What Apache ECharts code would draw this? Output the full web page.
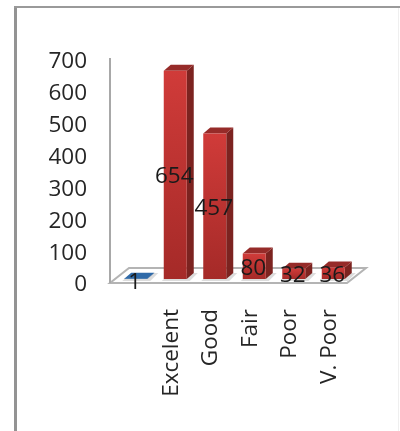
<!DOCTYPE html>
<html><head><meta charset="utf-8">
<script src="https://cdn.jsdelivr.net/npm/echarts@6/dist/echarts.min.js"></script>
<style>html,body{margin:0;padding:0;background:#fff}#c{width:400px;height:431px}</style>
</head><body><div id="c"></div>
<script>
const categories = ['', 'Excelent', 'Good', 'Fair', 'Poor', 'V. Poor'];
const values = [1, 654, 457, 80, 32, 36];
const yTicks = [0, 100, 200, 300, 400, 500, 600, 700];

const font = 'Open Sans';
const chart = echarts.init(document.getElementById('c'), null, {renderer: 'canvas'});

function faces(x0, x1, yBase, yTop, dx, dy, pal) {
  const shape = pts => ({points: pts});
  return [
    {type: 'polygon', shape: shape([[x0 - 2, yBase + 2], [x1 + 3, yBase + 2], [x1 + dx + 4, yBase + dy], [x0 + dx, yBase + dy]]), style: {fill: '#dcdcdc'}},
    {type: 'polygon', shape: shape([[x1, yTop], [x1 + dx, yTop + dy], [x1 + dx, yBase + dy], [x1, yBase]]), style: {fill: pal.side}},
    {type: 'polygon', shape: shape([[x0, yTop], [x1, yTop], [x1 + dx, yTop + dy], [x0 + dx, yTop + dy]]), style: {fill: pal.top}},
    {type: 'rect', shape: {x: x0, y: yTop, width: x1 - x0, height: yBase - yTop},
      style: {fill: new echarts.graphic.LinearGradient(0, 0, 0, 1, [{offset: 0, color: pal.f0}, {offset: 1, color: pal.f1}])}}
  ];
}
const red = {side: '#7c2320', top: '#962b29', f0: '#d03b39', f1: '#a52a28'};
const blue = {side: '#24497a', top: '#2f6aa8', f0: '#2f6aa8', f1: '#2a5c94'};
const labelRich = {a: {padding: [4, 0, 0, 0], color: '#262626', fontFamily: font, fontSize: 22.5}};

const option = {
  animation: false,
  backgroundColor: '#fff',
  graphic: [
    {type: 'rect', silent: true, z: 0, shape: {x: 14, y: 6, width: 3, height: 425}, style: {fill: '#939393'}},
    {type: 'rect', silent: true, z: 0, shape: {x: 14, y: 6, width: 386, height: 2}, style: {fill: '#9a9a9a'}},
    {type: 'rect', silent: true, z: 0, shape: {x: 398, y: 8, width: 1, height: 423}, style: {fill: '#efefef'}}
  ],
  grid: {left: 110, right: 53, top: 60, bottom: 148},
  xAxis: {
    type: 'category', data: categories, boundaryGap: true,
    axisLine: {show: false}, axisTick: {show: false},
    axisLabel: {rotate: 90, margin: 26, interval: 0, color: '#262626', fontFamily: font, fontSize: 22.5,
      rich: labelRich, formatter: v => v ? '{a|' + v + '}' : ''}
  },
  yAxis: {
    type: 'value', min: 0, max: 700, interval: 100,
    axisLine: {show: false}, axisTick: {show: false}, splitLine: {show: false},
    axisLabel: {margin: 23, color: '#262626', fontFamily: font, fontSize: 22.5,
      rich: labelRich, formatter: v => yTicks.includes(v) ? '{a|' + v + '}' : ''}
  },
  series: [
    {
      type: 'custom', coordinateSystem: 'cartesian2d', z: 1, silent: true,
      data: [[0, 0]],
      renderItem(params, api) {
        const o = api.coord([0, 0]);
        const band = api.size([1, 0])[0];
        const left = o[0] - band / 2;
        const right = left + band * categories.length;
        const top = api.coord([0, 700])[1];
        const dx = 19, dy = -15;
        return {type: 'group', children: [
          {type: 'polygon', shape: {points: [[left, o[1]], [right, o[1]], [right + dx, o[1] + dy], [left + dx, o[1] + dy]]},
            style: {fill: '#fff', stroke: '#b4b4b4', lineWidth: 2}},
          {type: 'line', shape: {x1: left, y1: o[1], x2: left, y2: top - 2},
            style: {stroke: '#a8a8a8', lineWidth: 2}}
        ]};
      }
    },
    {
      type: 'custom', coordinateSystem: 'cartesian2d', z: 2, silent: true,
      data: values.map((v, i) => [i, v]),
      renderItem(params, api) {
        const i = api.value(0), v = api.value(1);
        const base = api.coord([i, 0]);
        const topP = api.coord([i, v]);
        const mid = api.coord([i, v / 2]);
        const w = 23, shift = 6, lift = -4, dx = 7, dy = -6;
        const cx = base[0] + shift;
        const kids = faces(cx - w / 2, cx + w / 2, base[1] + lift, topP[1] + lift, dx, dy, v < 10 ? blue : red);
        kids.push({type: 'text', z2: 10, style: {
          text: String(v), x: base[0] + 5, y: mid[1] + lift + (v < 10 ? 4 : 2),
          align: 'center', verticalAlign: 'middle',
          fill: '#1a1a1a', font: '22.5px "' + font + '"'
        }});
        return {type: 'group', children: kids};
      }
    }
  ]
};
chart.setOption(option);
</script></body></html>
